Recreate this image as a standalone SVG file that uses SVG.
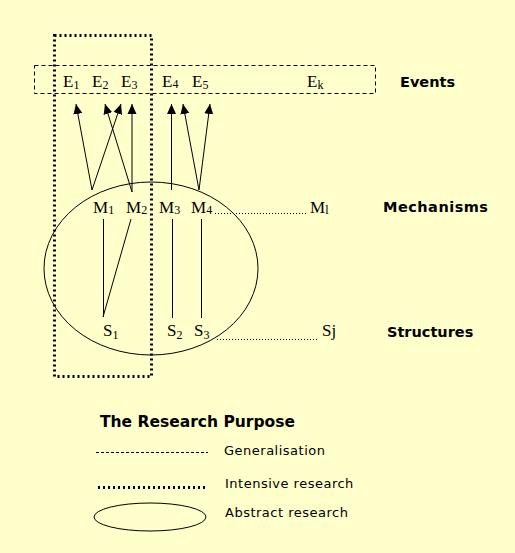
<svg xmlns="http://www.w3.org/2000/svg" width="515" height="553" viewBox="0 0 515 553">
<style>
.lbl{font-family:"Liberation Serif","Times New Roman",serif;font-size:17px;fill:#000}
.sub{font-size:12px}
.hd{font-family:"DejaVu Sans",sans-serif;font-weight:bold;font-size:14.5px;fill:#000}
.lg{font-family:"DejaVu Sans",sans-serif;font-size:13px;letter-spacing:0.5px;fill:#000}
.ln{stroke:#000;stroke-width:1;fill:none}
.dash{stroke:#000;stroke-width:1;fill:none;stroke-dasharray:4 3}
.dots{stroke:#000;stroke-width:3;fill:none;stroke-dasharray:2 3}
.fine{stroke:#000;stroke-width:1;fill:none;stroke-dasharray:1 2}
</style>
<defs>
<marker id="ah" markerUnits="userSpaceOnUse" markerWidth="10" markerHeight="10" viewBox="0 0 10 10" refX="10" refY="5" orient="auto">
<path d="M0,0.5 L10,5 L0,9.5 Z" fill="#000"/>
</marker>
</defs>
<rect x="0" y="0" width="515" height="553" fill="#FFFFCC"/>

<g id="abstract-ellipse"><ellipse class="ln" cx="151" cy="268.5" rx="107" ry="86.5"/></g>
<g id="events-box"><rect class="dash" x="34.5" y="65.5" width="341" height="28"/></g>
<g id="intensive-box"><rect class="dots" x="54.5" y="35.5" width="97" height="341"/></g>

<g id="connectors">
<line class="ln" x1="92" y1="190" x2="76" y2="104" marker-end="url(#ah)"/>
<line class="ln" x1="92" y1="190" x2="121" y2="104" marker-end="url(#ah)"/>
<line class="ln" x1="132" y1="192" x2="105" y2="104" marker-end="url(#ah)"/>
<line class="ln" x1="132" y1="192" x2="132" y2="104" marker-end="url(#ah)"/>
<line class="ln" x1="171.5" y1="190" x2="171.5" y2="104" marker-end="url(#ah)"/>
<line class="ln" x1="199" y1="190" x2="183" y2="104" marker-end="url(#ah)"/>
<line class="ln" x1="199" y1="190" x2="210" y2="104" marker-end="url(#ah)"/>
<line class="ln" x1="103.5" y1="219" x2="103.5" y2="317"/>
<line class="ln" x1="131" y1="219" x2="103" y2="317"/>
<line class="ln" x1="172.5" y1="219" x2="172.5" y2="318"/>
<line class="ln" x1="201.5" y1="219" x2="201.5" y2="318"/>
<line class="fine" x1="215" y1="213.5" x2="307" y2="213.5"/>
<line class="fine" x1="217" y1="339.5" x2="318" y2="339.5"/>
</g>

<g id="E1"><text class="lbl" x="63" y="87">E<tspan class="sub" dy="2">1</tspan></text></g>
<g id="E2"><text class="lbl" x="92" y="87">E<tspan class="sub" dy="2">2</tspan></text></g>
<g id="E3"><text class="lbl" x="121" y="87">E<tspan class="sub" dy="2">3</tspan></text></g>
<g id="E4"><text class="lbl" x="162" y="87">E<tspan class="sub" dy="1">4</tspan></text></g>
<g id="E5"><text class="lbl" x="192" y="87">E<tspan class="sub" dy="2">5</tspan></text></g>
<g id="Ek"><text class="lbl" x="307" y="87">E<tspan class="sub" dy="2">k</tspan></text></g>

<g id="M1"><text class="lbl" x="93" y="213">M<tspan class="sub" dy="1">1</tspan></text></g>
<g id="M2"><text class="lbl" x="126" y="213">M<tspan class="sub" dy="1">2</tspan></text></g>
<g id="M3"><text class="lbl" x="159" y="213">M<tspan class="sub" dy="1">3</tspan></text></g>
<g id="M4"><text class="lbl" x="191" y="213">M<tspan class="sub" dy="1">4</tspan></text></g>
<g id="Ml"><text class="lbl" x="310" y="213">M<tspan class="sub" dy="1">l</tspan></text></g>

<g id="S1"><text class="lbl" x="103" y="336">S<tspan class="sub" dy="3">1</tspan></text></g>
<g id="S2"><text class="lbl" x="167" y="336">S<tspan class="sub" dy="3">2</tspan></text></g>
<g id="S3"><text class="lbl" x="194" y="336">S<tspan class="sub" dy="3">3</tspan></text></g>
<g id="Sj"><text class="lbl" x="322" y="336">Sj</text></g>

<g id="events-label"><text class="hd" x="400" y="87">Events</text></g>
<g id="mechanisms-label"><text class="hd" x="383" y="212" textLength="105">Mechanisms</text></g>
<g id="structures-label"><text class="hd" x="387" y="337">Structures</text></g>

<g id="legend">
<text class="hd" x="100" y="427" style="font-size:15.5px">The Research Purpose</text>
<line class="ln" x1="96" y1="452.5" x2="208" y2="452.5" stroke-dasharray="3 2"/>
<text class="lg" x="224" y="455">Generalisation</text>
<line class="dots" x1="98" y1="487.5" x2="206" y2="487.5"/>
<text class="lg" x="225" y="488">Intensive research</text>
<ellipse class="ln" cx="150" cy="517" rx="56" ry="14"/>
<text class="lg" x="225" y="517">Abstract research</text>
</g>
</svg>
